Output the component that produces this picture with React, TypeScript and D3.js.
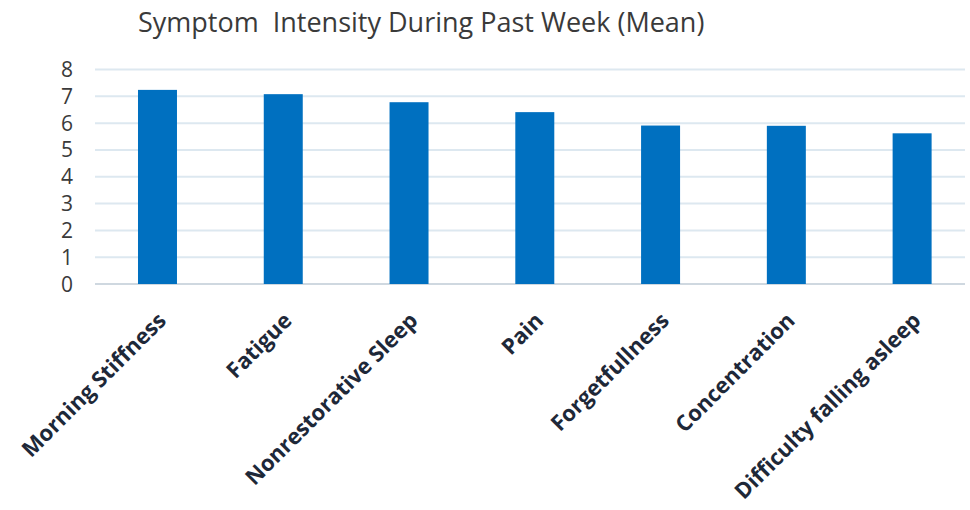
import { useEffect, useRef } from "react";
import * as d3 from "d3";

const categories = [
    "Morning Stiffness",
    "Fatigue",
    "Nonrestorative Sleep",
    "Pain",
    "Forgetfullness",
    "Concentration",
    "Difficulty falling asleep",
];
const means = [7.24, 7.08, 6.78, 6.41, 5.91, 5.9, 5.62];
const yTicks = [0, 1, 2, 3, 4, 5, 6, 7, 8];
const title = "Symptom  Intensity During Past Week (Mean)";

export default function App() {
    const svgRef = useRef<SVGSVGElement>(null);

    useEffect(() => {
        if (!svgRef.current) return;
        const width = 970;
        const height = 510;
        const svg = d3.select(svgRef.current);
        svg.selectAll("*").remove();
        svg.attr("width", width).attr("height", height);

        svg.append("rect").attr("width", width).attr("height", height).attr("fill", "#fff");

        // plot area
        const x = d3.scaleBand().domain(categories).range([94.6, 975]).paddingInner(0.69).paddingOuter(0.345);
        const y = d3.scaleLinear().domain([0, 8]).range([284, 69.5]);

        // gridlines
        svg.append("g")
            .selectAll("line")
            .data(yTicks)
            .enter()
            .append("line")
            .attr("x1", 95)
            .attr("x2", 965)
            .attr("y1", (d) => y(d))
            .attr("y2", (d) => y(d))
            .attr("stroke", (d) => (d === 0 ? "#cfd8e0" : "#dde8f0"))
            .attr("stroke-width", 2);

        // y labels
        svg.append("g")
            .selectAll("text")
            .data(yTicks)
            .enter()
            .append("text")
            .attr("x", 73)
            .attr("y", (d) => y(d))
            .attr("dy", "0.36em")
            .attr("text-anchor", "end")
            .attr("font-family", "'Open Sans', sans-serif")
            .attr("font-size", 21)
            .attr("fill", "#3a3a3a")
            .text((d) => d);

        // bars
        svg.append("g")
            .selectAll("rect")
            .data(means)
            .enter()
            .append("rect")
            .attr("x", (d, i) => x(categories[i])!)
            .attr("y", (d) => y(d))
            .attr("width", x.bandwidth())
            .attr("height", (d) => y(0) - y(d))
            .attr("fill", "#0070c0");

        // category labels, rotated like the original
        svg.append("g")
            .selectAll("text")
            .data(categories)
            .enter()
            .append("text")
            .attr("transform", (d) => `translate(${x(d)! + x.bandwidth() / 2 + 10},${322}) rotate(-45)`)
            .attr("text-anchor", "end")
            .attr("font-family", "'Open Sans', sans-serif")
            .attr("font-weight", "bold")
            .attr("font-size", 22)
            .attr("fill", "#1e2838")
            .text((d) => d);

        // title
        svg.append("text")
            .attr("x", 138)
            .attr("y", 32)
            .attr("font-family", "'Open Sans', sans-serif")
            .attr("font-size", 27)
            .attr("fill", "#3a3a3a")
            .style("white-space", "pre")
            .text(title);
    }, []);

    return (
        <div style={{ position: "absolute", left: 0, top: 0 }}>
            <svg ref={svgRef}></svg>
        </div>
    );
}
